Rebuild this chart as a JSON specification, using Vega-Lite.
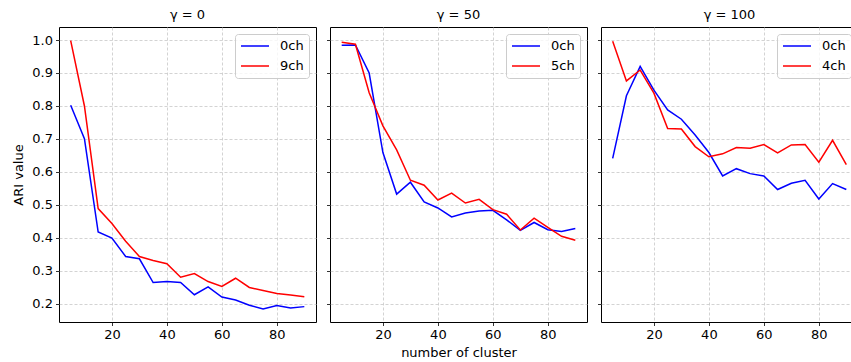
{
  "$schema": "https://vega.github.io/schema/vega-lite/v6.json",
  "padding": {"left": 12, "top": 8, "right": 0, "bottom": 0},
  "background": "white",
  "bounds": "flush",
  "spacing": 14,
  "config": {
    "font": "DejaVu Sans",
    "view": {"stroke": "black", "strokeWidth": 1},
    "axis": {
      "labelFont": "DejaVu Sans", "labelFontSize": 13, "labelColor": "black",
      "titleFont": "DejaVu Sans", "titleFontSize": 13, "titleFontWeight": "normal", "titleColor": "black",
      "tickColor": "black", "tickSize": 3.5, "tickWidth": 0.8, "labelPadding": 3,
      "domain": false,
      "gridColor": "#c8c8c8", "gridDash": [3, 2], "gridWidth": 0.8
    },
    "title": {"font": "DejaVu Sans", "fontSize": 13, "fontWeight": "normal", "color": "black", "offset": 5},
    "legend": {
      "orient": "top-right", "offset": 7, "title": null,
      "symbolType": "stroke", "symbolSize": 784, "symbolStrokeWidth": 1.5,
      "labelFont": "DejaVu Sans", "labelFontSize": 13, "labelColor": "black", "labelOffset": 10,
      "clipHeight": 14, "rowPadding": 6, "padding": 5,
      "strokeColor": "#cccccc", "fillColor": "rgba(255,255,255,0.8)", "cornerRadius": 3
    }
  },
  "datasets": {
    "ari": [
      {"panel": "g0", "series": "0ch", "k": 5, "ari": 0.802},
      {"panel": "g0", "series": "0ch", "k": 10, "ari": 0.701},
      {"panel": "g0", "series": "0ch", "k": 15, "ari": 0.418},
      {"panel": "g0", "series": "0ch", "k": 20, "ari": 0.400},
      {"panel": "g0", "series": "0ch", "k": 25, "ari": 0.344},
      {"panel": "g0", "series": "0ch", "k": 30, "ari": 0.337},
      {"panel": "g0", "series": "0ch", "k": 35, "ari": 0.265},
      {"panel": "g0", "series": "0ch", "k": 40, "ari": 0.268},
      {"panel": "g0", "series": "0ch", "k": 45, "ari": 0.265},
      {"panel": "g0", "series": "0ch", "k": 50, "ari": 0.228},
      {"panel": "g0", "series": "0ch", "k": 55, "ari": 0.252},
      {"panel": "g0", "series": "0ch", "k": 60, "ari": 0.221},
      {"panel": "g0", "series": "0ch", "k": 65, "ari": 0.212},
      {"panel": "g0", "series": "0ch", "k": 70, "ari": 0.196},
      {"panel": "g0", "series": "0ch", "k": 75, "ari": 0.185},
      {"panel": "g0", "series": "0ch", "k": 80, "ari": 0.195},
      {"panel": "g0", "series": "0ch", "k": 85, "ari": 0.188},
      {"panel": "g0", "series": "0ch", "k": 90, "ari": 0.192},
      {"panel": "g0", "series": "9ch", "k": 5, "ari": 0.998},
      {"panel": "g0", "series": "9ch", "k": 10, "ari": 0.800},
      {"panel": "g0", "series": "9ch", "k": 15, "ari": 0.489},
      {"panel": "g0", "series": "9ch", "k": 20, "ari": 0.444},
      {"panel": "g0", "series": "9ch", "k": 25, "ari": 0.390},
      {"panel": "g0", "series": "9ch", "k": 30, "ari": 0.344},
      {"panel": "g0", "series": "9ch", "k": 35, "ari": 0.332},
      {"panel": "g0", "series": "9ch", "k": 40, "ari": 0.322},
      {"panel": "g0", "series": "9ch", "k": 45, "ari": 0.281},
      {"panel": "g0", "series": "9ch", "k": 50, "ari": 0.292},
      {"panel": "g0", "series": "9ch", "k": 55, "ari": 0.268},
      {"panel": "g0", "series": "9ch", "k": 60, "ari": 0.253},
      {"panel": "g0", "series": "9ch", "k": 65, "ari": 0.278},
      {"panel": "g0", "series": "9ch", "k": 70, "ari": 0.250},
      {"panel": "g0", "series": "9ch", "k": 75, "ari": 0.241},
      {"panel": "g0", "series": "9ch", "k": 80, "ari": 0.232},
      {"panel": "g0", "series": "9ch", "k": 85, "ari": 0.227},
      {"panel": "g0", "series": "9ch", "k": 90, "ari": 0.222},
      {"panel": "g50", "series": "0ch", "k": 5, "ari": 0.984},
      {"panel": "g50", "series": "0ch", "k": 10, "ari": 0.985},
      {"panel": "g50", "series": "0ch", "k": 15, "ari": 0.900},
      {"panel": "g50", "series": "0ch", "k": 20, "ari": 0.659},
      {"panel": "g50", "series": "0ch", "k": 25, "ari": 0.533},
      {"panel": "g50", "series": "0ch", "k": 30, "ari": 0.569},
      {"panel": "g50", "series": "0ch", "k": 35, "ari": 0.509},
      {"panel": "g50", "series": "0ch", "k": 40, "ari": 0.491},
      {"panel": "g50", "series": "0ch", "k": 45, "ari": 0.464},
      {"panel": "g50", "series": "0ch", "k": 50, "ari": 0.476},
      {"panel": "g50", "series": "0ch", "k": 55, "ari": 0.482},
      {"panel": "g50", "series": "0ch", "k": 60, "ari": 0.484},
      {"panel": "g50", "series": "0ch", "k": 65, "ari": 0.455},
      {"panel": "g50", "series": "0ch", "k": 70, "ari": 0.423},
      {"panel": "g50", "series": "0ch", "k": 75, "ari": 0.447},
      {"panel": "g50", "series": "0ch", "k": 80, "ari": 0.425},
      {"panel": "g50", "series": "0ch", "k": 85, "ari": 0.420},
      {"panel": "g50", "series": "0ch", "k": 90, "ari": 0.429},
      {"panel": "g50", "series": "5ch", "k": 5, "ari": 0.993},
      {"panel": "g50", "series": "5ch", "k": 10, "ari": 0.987},
      {"panel": "g50", "series": "5ch", "k": 15, "ari": 0.840},
      {"panel": "g50", "series": "5ch", "k": 20, "ari": 0.740},
      {"panel": "g50", "series": "5ch", "k": 25, "ari": 0.667},
      {"panel": "g50", "series": "5ch", "k": 30, "ari": 0.575},
      {"panel": "g50", "series": "5ch", "k": 35, "ari": 0.560},
      {"panel": "g50", "series": "5ch", "k": 40, "ari": 0.515},
      {"panel": "g50", "series": "5ch", "k": 45, "ari": 0.536},
      {"panel": "g50", "series": "5ch", "k": 50, "ari": 0.506},
      {"panel": "g50", "series": "5ch", "k": 55, "ari": 0.517},
      {"panel": "g50", "series": "5ch", "k": 60, "ari": 0.486},
      {"panel": "g50", "series": "5ch", "k": 65, "ari": 0.472},
      {"panel": "g50", "series": "5ch", "k": 70, "ari": 0.424},
      {"panel": "g50", "series": "5ch", "k": 75, "ari": 0.460},
      {"panel": "g50", "series": "5ch", "k": 80, "ari": 0.432},
      {"panel": "g50", "series": "5ch", "k": 85, "ari": 0.405},
      {"panel": "g50", "series": "5ch", "k": 90, "ari": 0.393},
      {"panel": "g100", "series": "0ch", "k": 5, "ari": 0.641},
      {"panel": "g100", "series": "0ch", "k": 10, "ari": 0.831},
      {"panel": "g100", "series": "0ch", "k": 15, "ari": 0.920},
      {"panel": "g100", "series": "0ch", "k": 20, "ari": 0.848},
      {"panel": "g100", "series": "0ch", "k": 25, "ari": 0.788},
      {"panel": "g100", "series": "0ch", "k": 30, "ari": 0.760},
      {"panel": "g100", "series": "0ch", "k": 35, "ari": 0.712},
      {"panel": "g100", "series": "0ch", "k": 40, "ari": 0.659},
      {"panel": "g100", "series": "0ch", "k": 45, "ari": 0.588},
      {"panel": "g100", "series": "0ch", "k": 50, "ari": 0.610},
      {"panel": "g100", "series": "0ch", "k": 55, "ari": 0.595},
      {"panel": "g100", "series": "0ch", "k": 60, "ari": 0.588},
      {"panel": "g100", "series": "0ch", "k": 65, "ari": 0.547},
      {"panel": "g100", "series": "0ch", "k": 70, "ari": 0.566},
      {"panel": "g100", "series": "0ch", "k": 75, "ari": 0.575},
      {"panel": "g100", "series": "0ch", "k": 80, "ari": 0.518},
      {"panel": "g100", "series": "0ch", "k": 85, "ari": 0.565},
      {"panel": "g100", "series": "0ch", "k": 90, "ari": 0.547},
      {"panel": "g100", "series": "4ch", "k": 5, "ari": 0.996},
      {"panel": "g100", "series": "4ch", "k": 10, "ari": 0.876},
      {"panel": "g100", "series": "4ch", "k": 15, "ari": 0.909},
      {"panel": "g100", "series": "4ch", "k": 20, "ari": 0.839},
      {"panel": "g100", "series": "4ch", "k": 25, "ari": 0.732},
      {"panel": "g100", "series": "4ch", "k": 30, "ari": 0.730},
      {"panel": "g100", "series": "4ch", "k": 35, "ari": 0.677},
      {"panel": "g100", "series": "4ch", "k": 40, "ari": 0.646},
      {"panel": "g100", "series": "4ch", "k": 45, "ari": 0.655},
      {"panel": "g100", "series": "4ch", "k": 50, "ari": 0.674},
      {"panel": "g100", "series": "4ch", "k": 55, "ari": 0.672},
      {"panel": "g100", "series": "4ch", "k": 60, "ari": 0.683},
      {"panel": "g100", "series": "4ch", "k": 65, "ari": 0.658},
      {"panel": "g100", "series": "4ch", "k": 70, "ari": 0.682},
      {"panel": "g100", "series": "4ch", "k": 75, "ari": 0.683},
      {"panel": "g100", "series": "4ch", "k": 80, "ari": 0.630},
      {"panel": "g100", "series": "4ch", "k": 85, "ari": 0.696},
      {"panel": "g100", "series": "4ch", "k": 90, "ari": 0.622}
    ]
  },
  "data": {"name": "ari"},
  "resolve": {"scale": {"color": "independent"}, "legend": {"color": "independent"}},
  "hconcat": [
    {
      "width": 257, "height": 295,
      "title": "γ = 0",
      "transform": [{"filter": "datum.panel === 'g0'"}],
      "mark": {"type": "line", "strokeWidth": 1.5, "clip": true},
      "encoding": {
        "x": {"field": "k", "type": "quantitative", "scale": {"domain": [0.75, 94.25], "nice": false, "zero": false},
              "axis": {"values": [20, 40, 60, 80], "title": null}},
        "y": {"field": "ari", "type": "quantitative", "scale": {"domain": [0.1454, 1.0394], "nice": false, "zero": false},
              "axis": {"values": [0.2, 0.3, 0.4, 0.5, 0.6, 0.7, 0.8, 0.9, 1.0], "format": ".1f", "title": "ARI value", "titlePadding": 6}},
        "color": {"field": "series", "type": "nominal", "scale": {"domain": ["0ch", "9ch"], "range": ["#0000ff", "#ff0000"]}}
      }
    },
    {
      "width": 257, "height": 295,
      "title": "γ = 50",
      "transform": [{"filter": "datum.panel === 'g50'"}],
      "mark": {"type": "line", "strokeWidth": 1.5, "clip": true},
      "encoding": {
        "x": {"field": "k", "type": "quantitative", "scale": {"domain": [0.75, 94.25], "nice": false, "zero": false},
              "axis": {"values": [20, 40, 60, 80], "title": "number of cluster", "titlePadding": 5}},
        "y": {"field": "ari", "type": "quantitative", "scale": {"domain": [0.1454, 1.0394], "nice": false, "zero": false},
              "axis": {"values": [0.2, 0.3, 0.4, 0.5, 0.6, 0.7, 0.8, 0.9, 1.0], "labels": false, "title": null}},
        "color": {"field": "series", "type": "nominal", "scale": {"domain": ["0ch", "5ch"], "range": ["#0000ff", "#ff0000"]}}
      }
    },
    {
      "width": 257, "height": 295,
      "title": "γ = 100",
      "transform": [{"filter": "datum.panel === 'g100'"}],
      "mark": {"type": "line", "strokeWidth": 1.5, "clip": true},
      "encoding": {
        "x": {"field": "k", "type": "quantitative", "scale": {"domain": [0.75, 94.25], "nice": false, "zero": false},
              "axis": {"values": [20, 40, 60, 80], "title": null}},
        "y": {"field": "ari", "type": "quantitative", "scale": {"domain": [0.1454, 1.0394], "nice": false, "zero": false},
              "axis": {"values": [0.2, 0.3, 0.4, 0.5, 0.6, 0.7, 0.8, 0.9, 1.0], "labels": false, "title": null}},
        "color": {"field": "series", "type": "nominal", "scale": {"domain": ["0ch", "4ch"], "range": ["#0000ff", "#ff0000"]}}
      }
    }
  ]
}
